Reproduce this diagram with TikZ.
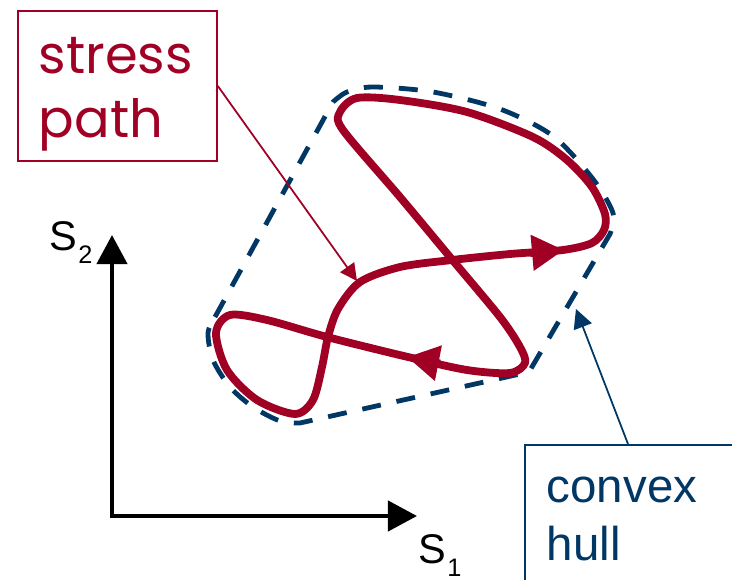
\documentclass[tikz,border=0pt]{standalone}
\usepackage{fontspec}
\setmainfont{Liberation Sans}
\newfontfamily\comicfont{Poppins}
\usetikzlibrary{arrows.meta}
\definecolor{pathred}{RGB}{160,0,35}
\definecolor{hullblue}{RGB}{0,55,100}
\newcommand\axsub[1]{\hspace{.3pt}\raisebox{-.13cm}{\fontsize{7.2}{8}\selectfont #1}}

\begin{document}
\begin{tikzpicture}[
  redline/.style={pathred,line width=.078cm,line join=round},
  redtip/.style={-{Triangle[length=.32cm,width=.34cm]}},
  hullline/.style={hullblue,line width=.048cm,dash pattern=on .19cm off .16cm},
  axislabel/.style={anchor=base west,inner sep=0,font=\fontsize{11.8}{13}\selectfont},
  redlabel/.style={draw=pathred,line width=.5pt,text=pathred,font=\comicfont\fontsize{15}{18.4}\selectfont,
    align=left,text width=1.57cm,inner xsep=.21cm,inner ysep=0,minimum height=1.5cm},
  bluelabel/.style={draw=hullblue,line width=.5pt,text=hullblue,font=\fontsize{13.5}{16.5}\selectfont,
    align=left,text width=1.96cm,inner xsep=.22cm,inner ysep=0}]
\useasboundingbox (0,0) rectangle (7.32,5.79);
\clip (0,0) rectangle (7.32,5.79);

% axes
\coordinate (o) at (1.12,.63);
\coordinate (s1end) at (4.17,.63);
\coordinate (s2end) at (1.12,3.44);
\draw[line width=.042cm,{Triangle[length=.29cm,width=.30cm]}-{Triangle[length=.29cm,width=.30cm]}]
  (s2end) -- (o) -- (s1end);
\node[axislabel] (s2) at (.49,3.29) {S\axsub{2}};
\node[axislabel] (s1) at (4.18,.16) {S\axsub{1}};

% convex hull
\draw[hullline] (2.15,2.62) -- (3.33,4.77)
  -- plot[smooth] coordinates {(3.33,4.77) (3.47,4.87) (3.73,4.92) (4.33,4.87) (5.00,4.70)
     (5.53,4.43) (5.93,4.00) (6.13,3.66) (6.10,3.45)}
  -- (5.29,2.07) -- (3.00,1.56)
  -- plot[smooth] coordinates {(3.00,1.56) (2.80,1.58) (2.53,1.72) (2.30,1.92) (2.13,2.19)
     (2.08,2.46) (2.15,2.62)};

% stress path
\draw[redline] plot[smooth cycle] coordinates {(3.60,2.97) (4.00,3.12) (4.52,3.19) (5.10,3.25)
  (5.63,3.29) (5.92,3.36) (6.04,3.49) (6.05,3.65) (5.92,3.92) (5.67,4.19) (5.33,4.42) (4.67,4.67)
  (4.00,4.79) (3.57,4.81) (3.40,4.67) (3.43,4.49) (4.00,3.82) (4.50,3.22) (5.00,2.62) (5.20,2.32)
  (5.25,2.16) (5.10,2.06) (4.67,2.09) (4.08,2.22) (3.27,2.42) (2.67,2.59) (2.30,2.64) (2.16,2.46)
  (2.27,2.09) (2.57,1.79) (2.95,1.65) (3.13,1.79) (3.22,2.12) (3.28,2.42) (3.38,2.70)};
\draw[redline,redtip] (5.30,3.26) -- (5.64,3.29);
\draw[redline,redtip] (4.40,2.155) -- (4.07,2.22);

% labels
\node[redlabel,anchor=north west] (sp) at (.17,5.69)
  {\rule{0pt}{.55cm}stress\\path\rule[-.16cm]{0pt}{0pt}};
\node[bluelabel,anchor=north west] (ch) at (5.24,1.35)
  {\rule{0pt}{.58cm}convex\\hull\rule[-.5cm]{0pt}{0pt}};
\coordinate (sptip) at (3.57,2.98);
\coordinate (chtip) at (5.76,2.70);
\draw[pathred,line width=.5pt,-{Triangle[length=.17cm,width=.17cm]}] (sp.east) -- (sptip);
\draw[hullblue,line width=.5pt,-{Triangle[length=.19cm,width=.19cm]}] ([xshift=1.04cm]ch.north west) -- (chtip);
\end{tikzpicture}
\end{document}
